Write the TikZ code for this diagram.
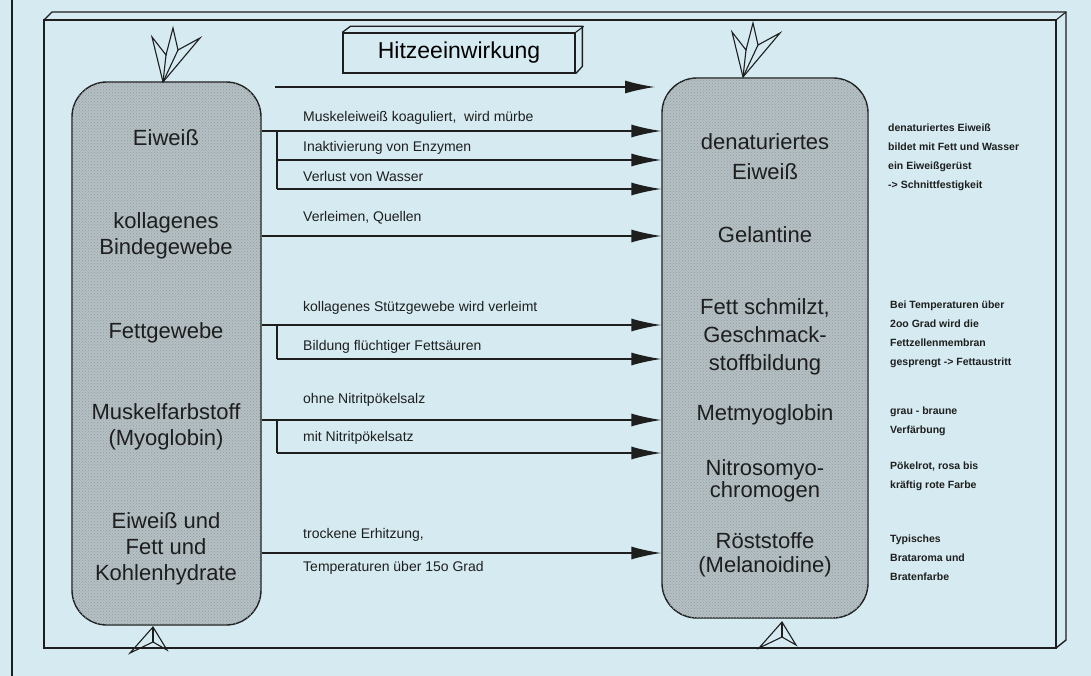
\documentclass[tikz,border=0pt]{standalone}
\usepackage{fontspec}
\setmainfont{Liberation Sans}
\usepackage{tikz}
\usetikzlibrary{arrows.meta}
\usetikzlibrary{patterns}
\definecolor{mback}{RGB}{213,235,241}
\definecolor{mfill}{RGB}{180,192,196}
\definecolor{mdot}{RGB}{145,155,160}
\definecolor{mline}{RGB}{30,30,30}
\tikzset{tank/.style = {draw = mline, line width = 1.4pt, fill = mfill, rounded corners = 35pt, inner sep = 0,
    postaction = {pattern = crosshatch dots, pattern color = mdot}}}
\tikzset{item/.style = {font = \fontsize{22}{26}\selectfont, align = center, text = mline}}
\tikzset{lbl/.style = {font = \fontsize{14}{16}\selectfont, anchor = west, inner sep = 0, text = mline}}
\tikzset{note/.style = {font = \fontsize{10.5}{19}\selectfont\bfseries, align = left, anchor = west, inner sep = 0, text = mline}}
\tikzset{flow/.style = {draw = mline, line width = 1.4pt, -{Latex[length = 30pt, width = 13pt]}}}
\tikzset{tie/.style = {draw = mline, line width = 1.4pt}}
\tikzset{glyph/.style = {draw = mline, line width = 1.1pt, line join = miter}}
\tikzset{flame/.pic = {
    \draw [glyph] (0, 0) -- (-11, -45) -- (3, -27) -- (10, -54) -- (15, -32) -- (37, -44) -- cycle;
    \draw [glyph] (0, 0) -- (3, -27);
    \draw [glyph] (0, 0) -- (15, -32);
  }}
\tikzset{spark/.pic = {
    \draw [glyph] (0, 0) -- (-23, 26) -- (0, 15) -- (14, 23) -- cycle;
    \draw [glyph] (0, 0) -- (0, 15);
  }}

\begin{document}
\begin{tikzpicture}[x = 1pt, y = -1pt]
      \fill [mback] (0, 0) rectangle (1091, 676);
      \useasboundingbox (0, 0) rectangle (1091, 676);
      \draw [mline, line width = 1.2pt] (12, 0) -- (12, 676);

      % frame
      \draw [mline, line width = 1.4pt] (44, 20) rectangle (1056, 648);
      \draw [mline, line width = 1.4pt] (44, 20) -- (52, 12) -- (1066, 12) -- (1066, 640) -- (1056, 648);
      \draw [mline, line width = 1.1pt] (1056, 20) -- (1066, 12);

      % heading block
      \node [draw = mline, line width = 1.3pt, minimum width = 232pt, minimum height = 40pt,
        font = \fontsize{23}{26}\selectfont] (heat) at (459, 53) {Hitzeeinwirkung};
      \draw [mline, line width = 1.3pt] (heat.north west) -- ++(8, -6) -- ++(232, 0) -- ++(0, 40) -- (heat.south east);
      \draw [mline, line width = 1.1pt] (heat.north east) -- ++(8, -6);
      \coordinate (heatL) at (275, 87);
      \coordinate (heatR) at (655, 87);
      \draw [flow] (heatL) -- (heatR);

      % the two tanks
      \node [tank, minimum width = 189pt, minimum height = 543pt] (src) at (166.5, 353.5) {};
      \node [tank, minimum width = 206pt, minimum height = 540pt] (dst) at (765, 348) {};

      \pic at (163, 82) {flame};
      \pic at (743, 77) {flame};
      \pic at (153, 627) {spark};
      \pic at (782, 622) {spark};

      % raw materials
      \node [item] (eiw) at (166, 138) {Eiweiß};
      \node [item] (koll) at (166, 236) {kollagenes\\Bindegewebe};
      \node [item] (fett) at (166, 333) {Fettgewebe};
      \node [item] (myo) at (166, 427) {Muskelfarbstoff\\(Myoglobin)};
      \node [item] (mix) at (166, 549) {Eiweiß und\\Fett und\\Kohlenhydrate};

      % products
      \node [item] (den) at (765, 157) {denaturiertes\\[4pt]Eiweiß};
      \node [item] (gel) at (765, 235) {Gelantine};
      \node [item] (schm) at (765, 337) {Fett schmilzt,\\[2pt]Geschmack-\\[2pt]stoffbildung};
      \node [item] (met) at (765, 415) {Metmyoglobin};
      \node [item] (nitro) at (765, 481) {Nitrosomyo-\\[-4pt]chromogen};
      \node [item] (roest) at (765, 555) {Röststoffe\\[-2pt](Melanoidine)};

      % reactions
      \node [lbl] (l1) at (303, 118) {Muskeleiweiß koaguliert,\ \ wird mürbe};
      \node [lbl] (l2) at (303, 148) {Inaktivierung von Enzymen};
      \node [lbl] (l3) at (303, 176) {Verlust von Wasser};
      \node [lbl] (l4) at (303, 218) {Verleimen, Quellen};
      \node [lbl] (l5) at (303, 308) {kollagenes Stützgewebe wird verleimt};
      \node [lbl] (l6) at (303, 347) {Bildung flüchtiger Fettsäuren};
      \node [lbl] (l7) at (303, 400) {ohne Nitritpökelsalz};
      \node [lbl] (l8) at (303, 438) {mit Nitritpökelsatz};
      \node [lbl] (l9) at (303, 535) {trockene Erhitzung,};
      \node [lbl] (l10) at (303, 568) {Temperaturen über 15o Grad};

      \coordinate (fork) at (277, 0);
      \coordinate (r1) at (0, 131);
      \coordinate (r2) at (0, 160);
      \coordinate (r3) at (0, 189);
      \coordinate (r4) at (0, 236);
      \coordinate (r5) at (0, 325);
      \coordinate (r6) at (0, 359);
      \coordinate (r7) at (0, 420);
      \coordinate (r8) at (0, 453);
      \coordinate (r9) at (0, 553);

      \draw [flow] (src.east |- r1) -- (dst.west |- r1);
      \draw [tie] (fork |- r1) -- (fork |- r3);
      \draw [flow] (fork |- r2) -- (dst.west |- r2);
      \draw [flow] (fork |- r3) -- (dst.west |- r3);
      \draw [flow] (src.east |- r4) -- (dst.west |- r4);
      \draw [flow] (src.east |- r5) -- (dst.west |- r5);
      \draw [tie] (fork |- r5) -- (fork |- r6);
      \draw [flow] (fork |- r6) -- (dst.west |- r6);
      \draw [flow] (src.east |- r7) -- (dst.west |- r7);
      \draw [tie] (fork |- r7) -- (fork |- r8);
      \draw [flow] (fork |- r8) -- (dst.west |- r8);
      \draw [flow] (src.east |- r9) -- (dst.west |- r9);

      % remarks
      \node [note] (n1) at (888, 157) {denaturiertes Eiweiß\\bildet mit Fett und Wasser\\ein Eiweißgerüst\\-> Schnittfestigkeit};
      \node [note] (n2) at (890, 334) {Bei Temperaturen über\\2oo Grad wird die\\Fettzellenmembran\\gesprengt -> Fettaustritt};
      \node [note] (n3) at (890, 421) {grau - braune\\Verfärbung};
      \node [note] (n4) at (890, 476) {Pökelrot, rosa bis\\kräftig rote Farbe};
      \node [note] (n5) at (890, 558) {Typisches\\Brataroma und\\Bratenfarbe};
    \end{tikzpicture}
\end{document}
